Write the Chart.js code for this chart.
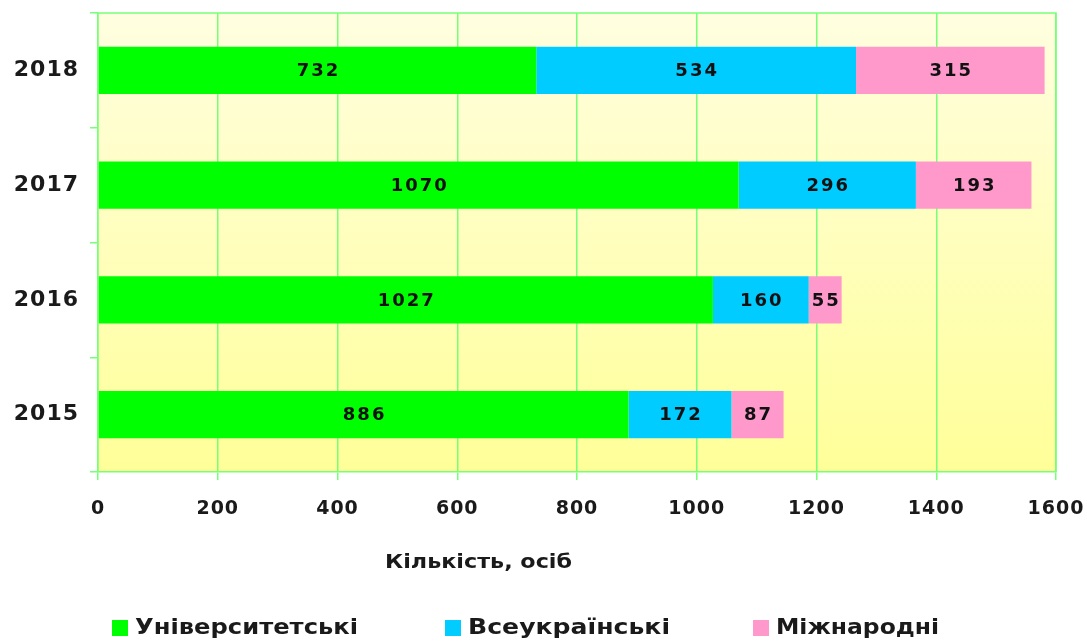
<!DOCTYPE html>
<html>
<head>
<meta charset="utf-8">
<script src="https://cdn.jsdelivr.net/npm/chart.js@4/dist/chart.umd.min.js"></script>
<style>
  html, body { margin: 0; padding: 0; background: #fff; }
  #wrap { position: relative; width: 1087px; height: 641px; font-family: "DejaVu Sans", Verdana, sans-serif; }
  #chart { position: absolute; left: 0; top: 0; }
  .txt { position: absolute; font-weight: bold; color: #1a1a1a; white-space: nowrap; transform-origin: 0 50%; }
  .axis-title { left: 385px; top: 552px; font-size: 19px; line-height: 19px; }
  .legend-text { top: 616px; font-size: 22px; line-height: 22px; }
  .swatch { position: absolute; top: 620px; width: 16px; height: 16px; }
</style>
</head>
<body>
<div id="wrap">
  <canvas id="chart" width="1087" height="641"></canvas>
  <div class="txt axis-title" data-w="187">Кількість, осіб</div>
  <div class="swatch" style="left:112px;background:#00ff00"></div>
  <div class="txt legend-text" style="left:135px" data-w="223">Університетські</div>
  <div class="swatch" style="left:445px;background:#00ccff"></div>
  <div class="txt legend-text" style="left:468px" data-w="202">Всеукраїнські</div>
  <div class="swatch" style="left:753px;background:#ff99cc"></div>
  <div class="txt legend-text" style="left:776px" data-w="163">Міжнародні</div>
</div>
<script>
// chart data
const years = ['2018', '2017', '2016', '2015'];
const university = [732, 1070, 1027, 886];
const allUkrainian = [534, 296, 160, 172];
const international = [315, 193, 55, 87];
const xTicks = [0, 200, 400, 600, 800, 1000, 1200, 1400, 1600];

const gridGreen = '#78ff78';
const fontFamily = '"DejaVu Sans", Verdana, sans-serif';

// stretch the html captions to the width they have in the original
document.querySelectorAll('.txt[data-w]').forEach(el => {
  const w = el.getBoundingClientRect().width;
  el.style.transform = 'scaleX(' + (Number(el.dataset.w) / w).toFixed(3) + ')';
});

// slight letter spacing for the tick labels
const spacing = {
  id: 'spacing',
  beforeUpdate(chart) { chart.ctx.letterSpacing = '1px'; },
  beforeDraw(chart) { chart.ctx.letterSpacing = '1px'; }
};

// gradient background behind the plot area
const plotBackground = {
  id: 'plotBackground',
  beforeDraw(chart) {
    const { ctx, chartArea: a } = chart;
    const g = ctx.createLinearGradient(0, a.top, 0, a.bottom);
    g.addColorStop(0, '#fffee0');
    g.addColorStop(1, '#ffff99');
    ctx.save();
    ctx.fillStyle = g;
    ctx.fillRect(a.left, a.top, a.right - a.left, a.bottom - a.top);
    ctx.restore();
  },
  afterDraw(chart) {
    // light green frame on top and right
    const { ctx, chartArea: a } = chart;
    ctx.save();
    ctx.strokeStyle = gridGreen;
    ctx.lineWidth = 1.5;
    ctx.beginPath();
    ctx.moveTo(a.left, a.top);
    ctx.lineTo(a.right, a.top);
    ctx.lineTo(a.right, a.bottom);
    ctx.stroke();
    ctx.restore();
  }
};

// value labels in the middle of each segment
const segmentLabels = {
  id: 'segmentLabels',
  afterDatasetsDraw(chart) {
    const { ctx } = chart;
    ctx.save();
    ctx.font = 'bold 18px ' + fontFamily;
    ctx.letterSpacing = '2px';
    ctx.fillStyle = '#111';
    ctx.textAlign = 'center';
    ctx.textBaseline = 'middle';
    chart.data.datasets.forEach((ds, i) => {
      chart.getDatasetMeta(i).data.forEach((bar, j) => {
        const cx = (bar.x + bar.base) / 2;
        ctx.fillText(String(ds.data[j]), cx + 1, bar.y + 1);
      });
    });
    ctx.restore();
  }
};

new Chart(document.getElementById('chart'), {
  type: 'bar',
  data: {
    labels: years,
    datasets: [
      { label: 'Університетські', data: university, backgroundColor: '#00ff00' },
      { label: 'Всеукраїнські', data: allUkrainian, backgroundColor: '#00ccff' },
      { label: 'Міжнародні', data: international, backgroundColor: '#ff99cc' }
    ]
  },
  options: {
    indexAxis: 'y',
    responsive: false,
    animation: false,
    layout: { padding: { top: 13, right: 31, bottom: 119, left: 0 } },
    datasets: { bar: { categoryPercentage: 0.82, barPercentage: 0.5 } },
    plugins: { legend: { display: false }, tooltip: { enabled: false } },
    scales: {
      x: {
        stacked: true,
        min: 0,
        max: 1600,
        afterBuildTicks(axis) { axis.ticks = xTicks.map(v => ({ value: v })); },
        afterFit(axis) {
          axis.height = 50;
          axis.paddingLeft = 0; axis.paddingRight = 0;
          axis.paddingTop = 0; axis.paddingBottom = 0;
        },
        grid: { color: gridGreen, lineWidth: 1.5, tickLength: 8 },
        border: { color: gridGreen, width: 1.5 },
        ticks: {
          color: '#1a1a1a',
          padding: 18,
          callback: v => String(v),
          font: { family: fontFamily, size: 19, weight: 'bold' }
        }
      },
      y: {
        stacked: true,
        afterFit(axis) {
          axis.width = 98;
          axis.paddingLeft = 0; axis.paddingRight = 0;
          axis.paddingTop = 0; axis.paddingBottom = 0;
        },
        grid: { color: gridGreen, lineWidth: 1.5, tickLength: 8, drawOnChartArea: false, offset: true },
        border: { color: gridGreen, width: 1.5 },
        ticks: {
          color: '#1a1a1a',
          padding: 11,
          font: { family: fontFamily, size: 22, weight: 'bold' }
        }
      }
    }
  },
  plugins: [spacing, plotBackground, segmentLabels]
});
</script>
</body>
</html>
